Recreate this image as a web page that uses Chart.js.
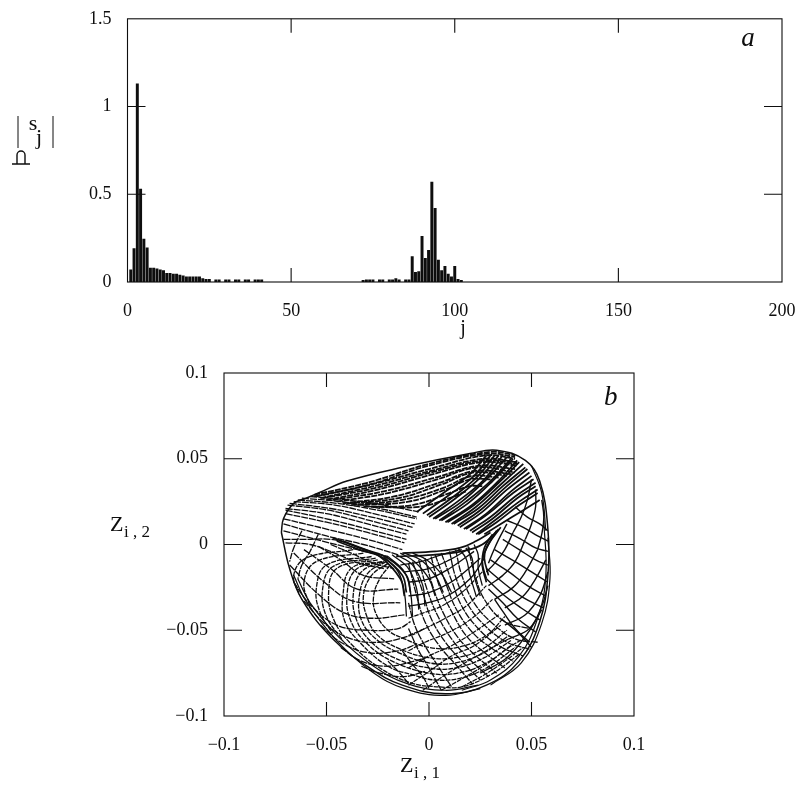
<!DOCTYPE html>
<html><head><meta charset="utf-8">
<script src="https://cdn.jsdelivr.net/npm/chart.js@4"></script>
<style>html,body{margin:0;padding:0;background:#fff}canvas{position:absolute;left:0;display:block}</style>
</head><body>
<canvas id="a" width="808" height="345" style="top:0"></canvas>
<canvas id="b" width="808" height="448" style="top:345px"></canvas>
<script>
/* Panel a: spectrum |s_j| */
const spectrumJ = [1,2,3,4,5,6,7,8,9,10,11,12,13,14,15,16,17,18,19,20,21,22,23,24,25,27,28,30,31,33,34,36,37,39,40,41,
  72,73,74,75,77,78,80,81,82,83,85,86,87,88,89,90,91,92,93,94,95,96,97,98,99,100,101,102];
const spectrumS = [.07,.19,1.13,.53,.245,.195,.08,.08,.075,.07,.065,.05,.05,.045,.045,.04,.035,.03,.03,.03,.03,.03,.02,.015,.015,.012,.012,.012,.012,.012,.012,.012,.012,.012,.012,.012,
  .01,.012,.012,.012,.012,.012,.012,.012,.02,.012,.012,.012,.145,.055,.06,.26,.135,.18,.57,.42,.125,.065,.09,.045,.03,.09,.015,.01];
const xTicksA = [0,50,100,150,200];
const yTicksA = [0,0.5,1,1.5];
const xLabelsA = ['0','50','100','150','200'];
const yLabelsA = ['0','0.5','1','1.5'];

/* Panel b: phase portrait, curves, in thousandths of Z */
const outlineCurve = [[-72,7],[-71,15],[-66,24],[-60,27],[-54,30],[-40,37],[-13,45],[20,53],[33,55],[47,49],[54,37],[58,9],[58,-18],[54,-45],[44,-68],[28,-82],[8,-87],[-13,-82],[-29,-72],[-47,-55],[-62,-32],[-68,-14],[-72,7]];
const rimCurves = [
 [[-66,-18],[-60,-33],[-45,-56],[-28,-74],[-12,-84],[8,-88],[25,-84]],
 [[-64,-20],[-58,-34],[-44,-54],[-27,-71],[-11,-81],[8,-85],[24,-82]],
 [[56,14],[57,-18],[53,-43],[44,-65],[30,-79],[16,-85]],
 [[58,4],[59,-20],[55,-46],[45,-69],[30,-82]],
 [[50,46],[55,30],[57,8]]
];
const ridgeCurves = [
 [[-47,4],[-36,-1],[-24,-7],[-14,-20],[-12,-30]],
 [[-45,2],[-34,-3],[-22,-8],[-13,-18],[-11,-28]],
 [[-42,2],[-31,-3],[-20,-8],[-11,-18],[-9,-28]],
 [[35,10],[29,0],[26,-10],[28,-20]],
 [[33,8],[28,-2],[27,-8],[29,-18]],
 [[31,6],[27,-2],[26,-12],[28,-22]],
 [[-13,-5],[3,-4],[15,-2],[23,2],[30,7]],
 [[-16,-7],[2,-6],[16,-4],[26,0],[34,9]]
];
const funnelCurves = [
 [[-22,-7],[-15,-16],[-12,-28],[-11,-42]],
 [[-20,-7],[-12,-16],[-9,-28],[-8,-42]],
 [[-18,-6],[-10,-14],[-6,-26],[-5,-38]],
 [[-16,-6],[-8,-12],[-3,-24],[-2,-36]],
 [[-14,-5],[-7,-10],[0,-20],[3,-30]],
 [[-12,-5],[-4,-9],[3,-18],[7,-28]],
 [[-8,-5],[-1,-9],[6,-17],[11,-28]],
 [[22,0],[24,-6],[24,-14],[26,-24]],
 [[18,-2],[21,-8],[22,-18],[25,-30]],
 [[14,-2],[18,-8],[20,-18],[23,-30]]
];
const throatCurves = [
 [[-12,-16],[0,-14],[10,-9],[20,-2]],
 [[-10,-22],[0,-20],[10,-14],[22,-4]],
 [[-10,-30],[0,-28],[12,-21],[25,-8]],
 [[-10,-36],[-1,-34],[9,-30],[20,-20],[27,-8]],
 [[-14,-12],[-4,-10],[6,-6],[16,-3]]
];
const lobeArcs = [
 [[-19,-12],[-24,-20],[-27,-30],[-26,-40],[-20,-50],[-12,-55],[0,-60],[14,-60],[28,-53],[37,-42]],
 [[-20,-11],[-28,-18],[-32,-30],[-30,-43],[-25,-53],[-14,-61],[0,-66],[13,-66],[26,-61],[38,-50]],
 [[-21,-10],[-30,-17],[-34,-30],[-33,-44],[-26,-55],[-15,-63],[0,-69],[13,-69],[27,-63],[39,-53]],
 [[-22,-10],[-33,-16],[-37,-30],[-35,-45],[-28,-57],[-17,-66],[0,-72],[13,-72],[27,-66],[40,-56]],
 [[-23,-10],[-36,-15],[-40,-30],[-38,-45],[-30,-58],[-18,-68],[0,-75],[14,-75],[28,-69],[41,-58]],
 [[-23,-10],[-38,-14],[-42,-30],[-41,-45],[-33,-58],[-20,-71],[-8,-76],[3,-79],[15,-78],[28,-72],[42,-60]],
 [[-25,-9],[-45,-14],[-49,-29],[-46,-45],[-38,-58],[-24,-72],[-8,-81],[5,-83],[16,-83],[30,-76],[44,-64]],
 [[-26,-8],[-47,-13],[-52,-27],[-50,-42],[-42,-56]],
 [[-28,-7],[-50,-12],[-55,-26],[-53,-40],[-47,-52]],
 [[-32,-5],[-55,-10],[-61,-22],[-58,-36]],
 [[-37,-3],[-60,-8],[-66,-18],[-63,-30]]
];
const lobeSpokes = [
 [[-71,3],[-60,3],[-48,3],[-38,0],[-28,-5]],
 [[-70,1],[-58,0],[-46,-5],[-34,-11],[-22,-14]],
 [[-48,0],[-38,-5],[-27,-11],[-17,-14]],
 [[-54,-1],[-43,-9],[-32,-18],[-17,-20]],
 [[-61,-3],[-48,-14],[-35,-26],[-15,-26]],
 [[-66,-5],[-51,-22],[-37,-33],[-14,-34]],
 [[-68,-12],[-54,-29],[-41,-40],[-27,-43],[-12,-41]],
 [[-66,-22],[-58,-35],[-45,-47],[-30,-50],[-15,-49],[-9,-45]],
 [[-61,-33],[-51,-46],[-38,-55],[-24,-57],[-9,-53],[-2,-49]],
 [[-53,-47],[-43,-57],[-30,-63],[-15,-62],[-6,-58]],
 [[-43,-60],[-33,-68],[-20,-71],[-7,-68],[-2,-66]],
 [[-33,-71],[-24,-75],[-12,-77],[-2,-74]],
 [[-62,8],[-66,-2],[-68,-10]],
 [[-54,6],[-58,-4],[-62,-12],[-64,-20]]
];
const centreCurves = [
 [[-10,-11],[-6,-30],[-2,-45],[5,-59],[13,-70],[21,-81]],
 [[-8,-10],[-3,-28],[1,-43],[8,-57],[16,-68],[25,-79]],
 [[-5,-9],[-1,-26],[4,-41],[11,-55],[19,-66],[29,-77]],
 [[-2,-8],[2,-25],[7,-40],[14,-54],[22,-64],[33,-75]],
 [[1,-7],[5,-24],[11,-39],[18,-53],[26,-62],[37,-72]],
 [[3,-6],[8,-22],[13,-37],[21,-51],[30,-60],[41,-68]],
 [[6,-5],[11,-21],[16,-36],[24,-49],[34,-59],[46,-65]],
 [[10,-4],[13,-19],[19,-35],[27,-47],[38,-57],[49,-61]],
 [[13,-3],[16,-18],[22,-34],[31,-46],[42,-55],[53,-57]],
 [[19,-1],[22,-16],[27,-32],[37,-45],[49,-49]],
 [[-10,-34],[-7,-47],[-2,-59],[5,-72],[11,-83]],
 [[-10,-49],[-5,-62],[0,-72],[6,-85]],
 [[-13,-62],[-8,-70],[-3,-77],[0,-84]],
 [[-20,-68],[-15,-74],[-10,-81]]
];
const risingCurves = [
 [[-10,-82],[0,-74],[11,-65],[22,-59],[35,-47]],
 [[-3,-85],[8,-76],[19,-68],[31,-60],[39,-55]],
 [[6,-85],[18,-77],[29,-69],[39,-60],[46,-55]],
 [[16,-83],[27,-76],[37,-68],[46,-60]],
 [[-10,-72],[0,-65],[11,-59],[22,-51],[34,-41]],
 [[-10,-62],[-2,-57],[10,-51],[21,-43],[31,-32]],
 [[-10,-53],[-2,-49],[8,-43],[18,-36],[28,-24]],
 [[-10,-43],[-3,-40],[6,-36],[16,-28],[26,-16]]
];
const rightSpokes = [
 [[36,3],[44,-3],[52,-9],[58,-12]],
 [[32,-3],[42,-10],[50,-16],[58,-22]],
 [[30,-9],[39,-16],[48,-24],[57,-30]],
 [[28,-14],[37,-23],[46,-31],[56,-37]],
 [[28,-20],[36,-29],[45,-37],[54,-44]],
 [[29,-26],[36,-34],[43,-43],[52,-51]],
 [[32,-32],[36,-39],[42,-49],[49,-57]],
 [[36,-44],[44,-52],[50,-60]],
 [[37,8],[45,3],[52,-2],[58,-4]],
 [[38,14],[46,10],[53,5],[58,2]],
 [[42,22],[48,16],[54,12],[58,8]]
];
const rightArcs = [
 [[25,-75],[38,-66],[48,-52],[55,-38]],
 [[39,-55],[49,-49],[55,-36],[58,-24]],
 [[37,-47],[47,-41],[54,-30],[58,-16]],
 [[37,-37],[46,-30],[52,-20],[57,-9]],
 [[32,-32],[41,-25],[47,-16],[53,-3]],
 [[29,-24],[36,-18],[42,-10],[47,3]],
 [[28,-16],[32,-11],[37,-3],[41,7]],
 [[29,-11],[31,-5],[34,3],[38,12]],
 [[47,3],[50,12],[52,22],[52,32]],
 [[41,7],[45,16],[48,26],[50,38]],
 [[53,-3],[55,6],[56,16],[55,26]]
];
const topStreaks = [
 [[-6,19],[7,30],[20,41],[28,52]],
 [[-3,18],[10,29],[22,40],[30,52]],
 [[-1,17],[12,28],[24,40],[32,52]],
 [[0,16],[13,27],[25,39],[34,52]],
 [[2,15],[15,26],[27,38],[36,52]],
 [[3,15],[16,25],[28,38],[38,51]],
 [[5,14],[18,25],[30,37],[40,50]],
 [[6,14],[19,24],[31,37],[41,50]],
 [[8,13],[21,23],[33,36],[43,49]],
 [[9,13],[22,23],[34,36],[44,48]],
 [[11,12],[23,22],[35,35],[46,47]],
 [[12,12],[24,21],[36,34],[47,45]],
 [[14,11],[25,20],[37,33],[48,44]],
 [[15,10],[26,19],[38,32],[49,42]],
 [[17,9],[28,18],[40,31],[50,40]],
 [[18,9],[29,18],[41,30],[51,38]],
 [[20,8],[30,16],[42,28],[52,36]],
 [[21,7],[31,15],[43,27],[52,34]],
 [[23,6],[32,14],[44,25],[53,32]],
 [[24,6],[33,13],[44,23],[53,30]],
 [[27,6],[35,12],[46,20],[54,26]]
];
const topBand = [
 [[-56,29],[-30,36],[0,47],[30,54],[42,52]],
 [[-56,28],[-29,35],[0,46],[29,53],[42,51]],
 [[-55,28],[-28,35],[0,44],[28,52],[42,50]],
 [[-53,27],[-27,34],[1,43],[27,50],[43,48]],
 [[-52,27],[-26,33],[1,42],[27,49],[43,47]],
 [[-50,26],[-25,32],[2,41],[26,48],[43,46]],
 [[-47,26],[-22,31],[3,39],[25,46],[42,44]],
 [[-45,25],[-20,30],[4,38],[24,45],[42,42]],
 [[-42,24],[-17,28],[5,36],[23,43],[40,41]],
 [[-40,24],[-15,27],[6,35],[22,42],[38,40]],
 [[-38,23],[-13,26],[7,33],[21,40],[34,39]],
 [[-35,23],[-10,25],[8,32],[20,38],[30,38]],
 [[-32,22],[-8,23],[10,30],[20,34],[26,34]],
 [[-28,22],[-5,22],[10,27],[18,31]]
];
const leftBundle = [
 [[-58,28],[-40,26],[-22,23],[-5,19]],
 [[-62,27],[-43,25],[-24,21],[-6,16]],
 [[-64,26],[-45,24],[-25,20],[-6,15]],
 [[-66,25],[-46,23],[-27,18],[-7,12]],
 [[-68,24],[-48,21],[-28,16],[-8,10]],
 [[-69,23],[-49,20],[-29,14],[-10,8]],
 [[-70,21],[-50,18],[-30,12],[-11,6]],
 [[-70,20],[-50,15],[-30,9],[-11,3]],
 [[-70,18],[-50,13],[-30,7],[-12,1]],
 [[-71,15],[-50,9],[-30,3],[-13,-3]],
 [[-71,12],[-50,5],[-32,0],[-15,-6]],
 [[-71,8],[-52,2],[-35,-3],[-20,-7]]
];
const ticksB = [-0.1,-0.05,0,0.05,0.1];
const labelsB = ['\u22120.1','\u22120.05','0','0.05','0.1'];

const INK = '#0e0e0e';
const FONT = 'Liberation Serif';

function inwardTicks(xValues, yValues, xLen, yLen) {
  return {
    id: 'inwardTicks',
    afterDraw(chart) {
      const {ctx, chartArea: c, scales: {x, y}} = chart;
      ctx.save();
      ctx.strokeStyle = INK; ctx.lineWidth = 1.1;
      ctx.strokeRect(c.left, c.top, c.right - c.left, c.bottom - c.top);
      ctx.beginPath();
      xValues.slice(1, -1).forEach(v => {
        const p = x.getPixelForValue(v);
        ctx.moveTo(p, c.top); ctx.lineTo(p, c.top + xLen);
        ctx.moveTo(p, c.bottom); ctx.lineTo(p, c.bottom - xLen);
      });
      yValues.slice(1, -1).forEach(v => {
        const p = y.getPixelForValue(v);
        ctx.moveTo(c.left, p); ctx.lineTo(c.left + yLen, p);
        ctx.moveTo(c.right, p); ctx.lineTo(c.right - yLen, p);
      });
      ctx.stroke();
      ctx.restore();
    }
  };
}
function text(ctx, s, x, y, size, style) {
  ctx.font = (style ? style + ' ' : '') + size + 'px "' + FONT + '"';
  ctx.fillText(s, x, y);
}
const notesA = {
  id: 'notesA',
  afterDraw(chart) {
    const ctx = chart.ctx;
    ctx.save();
    ctx.fillStyle = INK; ctx.strokeStyle = INK;
    ctx.textAlign = 'center'; ctx.textBaseline = 'alphabetic';
    text(ctx, 'j', 463, 334, 20);
    text(ctx, 'a', 748, 46, 27, 'italic');
    text(ctx, 's', 33, 130, 22);
    text(ctx, 'j', 39, 144, 22);
    ctx.lineWidth = 1;
    ctx.beginPath();
    ctx.moveTo(18, 116); ctx.lineTo(18, 148);
    ctx.moveTo(53, 116); ctx.lineTo(53, 148);
    ctx.stroke();
    ctx.lineWidth = 1.4;
    ctx.beginPath();
    ctx.moveTo(12, 164); ctx.lineTo(30, 164);
    ctx.moveTo(17, 164); ctx.lineTo(17, 155); ctx.arc(21, 155, 4, Math.PI, 0); ctx.lineTo(25, 164);
    ctx.stroke();
    ctx.restore();
  }
};
const notesB = {
  id: 'notesB',
  afterDraw(chart) {
    const ctx = chart.ctx, o = -345;
    ctx.save();
    ctx.fillStyle = INK;
    ctx.textBaseline = 'alphabetic'; ctx.textAlign = 'left';
    text(ctx, 'b', 604, 405 + o, 27, 'italic');
    text(ctx, 'Z', 110, 531 + o, 22);
    text(ctx, 'i , 2', 124, 537 + o, 17);
    text(ctx, 'Z', 400, 772 + o, 22);
    text(ctx, 'i , 1', 414, 778 + o, 17);
    ctx.restore();
  }
};

function axis(min, max, values, labels, padding, fit) {
  return {
    type: 'linear', min, max, offset: false,
    afterBuildTicks(s) { s.ticks = values.map(v => ({value: v})); },
    grid: {display: false, offset: false},
    border: {display: false},
    ticks: {
      autoSkip: false, maxRotation: 0, color: INK, padding,
      font: {family: FONT, size: 18},
      callback: v => labels[values.findIndex(t => Math.abs(t - v) < 1e-9)]
    },
    afterFit: fit
  };
}

new Chart(document.getElementById('a'), {
  type: 'bar',
  data: {datasets: [{
    data: spectrumJ.map((j, i) => ({x: j, y: spectrumS[i]})),
    backgroundColor: INK, barThickness: 2.3, borderWidth: 0
  }]},
  options: {
    responsive: false, animation: false,
    layout: {padding: {left: 0, top: 18, right: 26, bottom: 0}},
    plugins: {legend: {display: false}, tooltip: {enabled: false}},
    scales: {
      x: axis(0, 200, xTicksA, xLabelsA, 10, s => { s.height = 63; }),
      y: axis(0, 1.5, yTicksA, yLabelsA, 8, s => { s.width = 127.5; })
    }
  },
  plugins: [inwardTicks(xTicksA, yTicksA, 14, 18), notesA]
});

function curveSets(list, width, dash) {
  return list.map(c => ({
    data: c.map(p => ({x: p[0] / 1000, y: p[1] / 1000})),
    showLine: true, pointRadius: 0, tension: 0.4,
    borderColor: INK, borderWidth: width, borderDash: dash || []
  }));
}
new Chart(document.getElementById('b'), {
  type: 'scatter',
  data: {datasets: [
    ...curveSets(risingCurves, 1.2, [5, 1]),
    ...curveSets(lobeArcs, 1.3, [5, 1]),
    ...curveSets(lobeSpokes, 1.3, [7, 1]),
    ...curveSets(centreCurves, 1.3, [7, 1]),
    ...curveSets(throatCurves, 1.3),
    ...curveSets(rightSpokes, 1.4),
    ...curveSets(rightArcs, 1.4),
    ...curveSets(funnelCurves, 1.3),
    ...curveSets(topBand, 1.8, [6, 1]),
    ...curveSets(leftBundle, 1.3, [7, 1]),
    ...curveSets(topStreaks, 1.8),
    ...curveSets(ridgeCurves, 1.7),
    ...curveSets(rimCurves, 1.2),
    ...curveSets([outlineCurve], 1.5)
  ]},
  options: {
    responsive: false, animation: false,
    layout: {padding: {left: 0, top: 28, right: 174, bottom: 0}},
    plugins: {legend: {display: false}, tooltip: {enabled: false}},
    scales: {
      x: axis(-0.1, 0.1, ticksB, labelsB, 10, s => { s.height = 77; }),
      y: axis(-0.1, 0.1, ticksB, labelsB, 8, s => { s.width = 224; })
    }
  },
  plugins: [inwardTicks(ticksB, ticksB, 14, 18), notesB]
});
</script>
</body></html>
